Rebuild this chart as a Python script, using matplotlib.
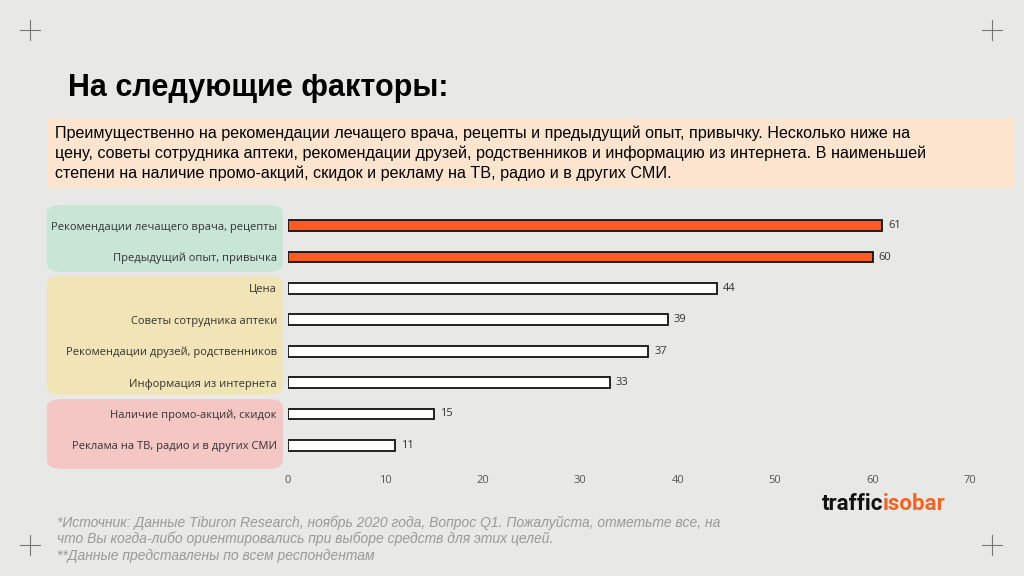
import matplotlib.pyplot as plt
from matplotlib.patches import FancyBboxPatch, Rectangle

categories = ["Рекомендации лечащего врача, рецепты", "Предыдущий опыт, привычка", "Цена",
              "Советы сотрудника аптеки", "Рекомендации друзей, родственников",
              "Информация из интернета", "Наличие промо-акций, скидок",
              "Реклама на ТВ, радио и в других СМИ"]
values = [61, 60, 44, 39, 37, 33, 15, 11]
xticks = [0, 10, 20, 30, 40, 50, 60, 70]

W, H = 1024, 576
fig = plt.figure(figsize=(10.24, 5.76), dpi=100, facecolor="#e8e8e7")
font = "Liberation Sans"

def px(x, y):
    return x / W, 1 - y / H

for cx, cy in [(30, 30), (992, 30), (30, 545), (992, 545)]:
    for dx, dy in [((cx - 10, cx + 10), (cy, cy)), ((cx, cx), (cy - 10, cy + 10))]:
        fig.add_artist(plt.Line2D([d / W for d in dx], [1 - d / H for d in dy], color="#777", lw=0.8))

fig.text(*px(68, 88), "На следующие факторы:", fontsize=22, fontweight="bold", family=font, va="center")

fig.add_artist(Rectangle(px(48, 188), 967 / W, 70 / H, facecolor="#fce4cf", edgecolor="none", zorder=-1))
fig.text(*px(55, 153), "Преимущественно на рекомендации лечащего врача, рецепты и предыдущий опыт, привычку. Несколько ниже на\n"
         "цену, советы сотрудника аптеки, рекомендации друзей, родственников и информацию из интернета. В наименьшей\n"
         "степени на наличие промо-акций, скидок и рекламу на ТВ, радио и в других СМИ.",
         fontsize=11.6, family=font, va="center", linespacing=1.35)

for (y0, y1, c) in [(205, 272, "#c8e5d6"), (276, 395, "#f1e4b6"), (399, 469, "#f4c6c4")]:
    x0, yb = px(47, y1)
    fig.add_artist(FancyBboxPatch((x0, yb), 236 / W, (y1 - y0) / H,
                                  boxstyle="round,pad=0,rounding_size=0.015",
                                  facecolor=c, edgecolor="none", zorder=-1))

ax = fig.add_axes([288 / W, 1 - 461 / H, 682 / W, 251 / H])
ax.set_zorder(3)
ax.set_facecolor("none")
ypos = list(range(len(values)))
colors = ["#ff5a1f" if i < 2 else "white" for i in range(len(values))]
ax.barh(ypos, values, height=0.34, color=colors, edgecolor="#111", linewidth=1.3)
for y, v in zip(ypos, values):
    ax.text(v + 0.6, y, str(v), va="center", fontsize=8, color="#333", family="Open Sans")
ax.set_ylim(len(values) - 0.5, -0.5)
ax.set_xlim(0, 70)
ax.set_xticks(xticks)
ax.set_xticklabels([str(t) for t in xticks], fontsize=8, color="#555", family="Open Sans")
ax.set_yticks(ypos)
ax.set_yticklabels(categories, fontsize=8, color="#333", family="Open Sans")
ax.tick_params(length=0, pad=8)
ax.tick_params(axis="x", pad=10)
for s in ax.spines.values():
    s.set_visible(False)

fig.text(*px(57, 539), "*Источник: Данные Tiburon Research, ноябрь 2020 года, Вопрос Q1. Пожалуйста, отметьте все, на\n"
         "что Вы когда-либо ориентировались при выборе средств для этих целей.\n"
         "**Данные представлены по всем респондентам",
         fontsize=10, style="italic", color="#999", family=font, va="center", linespacing=1.2)

fig.text(*px(822, 504), "traffic", fontsize=16, fontweight="bold", family="Roboto", va="center", color="#111")
fig.text(*px(883, 504), "isobar", fontsize=16, fontweight="bold", family="Roboto", va="center", color="#f26522")

fig.savefig("out.png", dpi=100, facecolor=fig.get_facecolor())
